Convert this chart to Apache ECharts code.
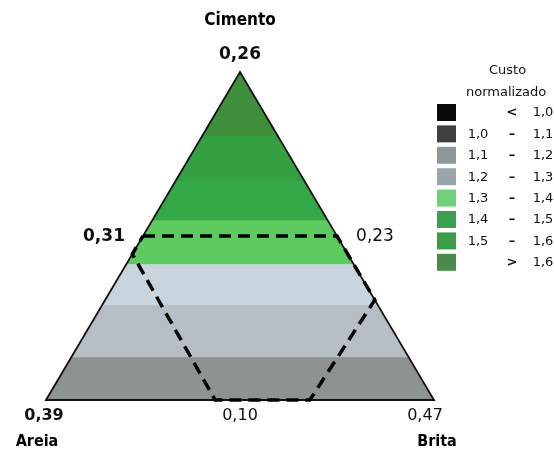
<!DOCTYPE html>
<html>
<head>
<meta charset="utf-8">
<script src="https://cdn.jsdelivr.net/npm/echarts@6/dist/echarts.min.js"></script>
<style>
html,body{margin:0;padding:0;background:#fff;}
#chart{width:554px;height:453px;}
</style>
</head>
<body>
<div id="chart"></div>
<script>
// Bands of normalised cost, as Cimento pseudo-fraction levels (0 = base, 1 = apex)
const cimentoEdges = [0, 0.131, 0.29, 0.415, 0.549, 0.671, 0.808, 1];
const bandColors = ['#8d9391', '#b7bdc4', '#c8d5df', '#5dca5f', '#34a846', '#35a041', '#3f8f3c'];

// Feasible region outline, pseudo-components [Areia, Brita, Cimento]
const regionAreia   = [0.5,  0.0,  0.0,   0.32, 0.564, 0.555];
const regionBrita   = [0.0,  0.5,  0.695, 0.68, 0.436, 0.0];
const regionCimento = [0.5,  0.5,  0.305, 0.0,  0.0,   0.445];

// Legend
const legendTitle = ['Custo', 'normalizado'];
const legendLow  = ['', '1,0', '1,1', '1,2', '1,3', '1,4', '1,5', ''];
const legendSep  = ['<', '–', '–', '–', '–', '–', '–', '>'];
const legendHigh = ['1,0', '1,1', '1,2', '1,3', '1,4', '1,5', '1,6', '1,6'];
const legendColors = ['#0a0a0a', '#3e4042', '#8d979c', '#9aa5ac', '#6fd27a', '#3da050', '#3a9d48', '#4a8a4a'];

// Vertex / side labels
const vertexNames = ['Cimento', 'Areia', 'Brita'];
const vertexValues = ['0,26', '0,39', '0,47'];
const sideValues = ['0,31', '0,23', '0,10'];

function toXY(a, b, c) { return [b + c / 2, c]; }

const bandData = [];
for (let i = 0; i < bandColors.length; i++) bandData.push([cimentoEdges[i], cimentoEdges[i + 1], i]);

const regionPts = regionAreia.map((a, i) => toXY(a, regionBrita[i], regionCimento[i]));

const chart = echarts.init(document.getElementById('chart'));

const legendGraphics = [];
const lx = 437, ly0 = 104, dy = 21.4;
legendGraphics.push({type: 'text', left: 489, top: 64, style: {text: legendTitle[0], font: '13px "DejaVu Sans"', fill: '#111'}});
legendGraphics.push({type: 'text', left: 466, top: 86, style: {text: legendTitle[1], font: '13px "DejaVu Sans"', fill: '#111'}});
for (let i = 0; i < legendColors.length; i++) {
  const y = ly0 + i * dy;
  legendGraphics.push({type: 'rect', shape: {x: lx, y: y, width: 19, height: 17}, style: {fill: legendColors[i]}});
  legendGraphics.push({type: 'text', x: 478, y: y + 9, style: {text: legendLow[i], font: '13px "DejaVu Sans"', fill: '#111', textAlign: 'center', textVerticalAlign: 'middle'}});
  legendGraphics.push({type: 'text', x: 512, y: y + 9, style: {text: legendSep[i], font: 'bold 13px "DejaVu Sans"', fill: '#111', textAlign: 'center', textVerticalAlign: 'middle'}});
  legendGraphics.push({type: 'text', x: 543, y: y + 9, style: {text: legendHigh[i], font: '13px "DejaVu Sans"', fill: '#111', textAlign: 'center', textVerticalAlign: 'middle'}});
}

function label(text, x, y, bold, size) {
  return {type: 'text', x: x, y: y, style: {text: text, font: (bold ? 'bold ' : '') + (size || 16) + 'px "DejaVu Sans"', fill: '#111', textAlign: 'center', textVerticalAlign: 'middle'}};
}
const labelGraphics = [
  {type: 'text', x: 240, y: 21, style: {text: vertexNames[0], font: 'bold 17px "DejaVu Sans Condensed", "DejaVu Sans"', fill: '#000', textAlign: 'center', textVerticalAlign: 'middle'}},
  label(vertexValues[0], 240, 55, true, 17),
  label(sideValues[0], 104, 237, true, 17),
  label(sideValues[1], 375, 237, false, 17),
  label(vertexValues[1], 44, 416, true, 16),
  label(sideValues[2], 240, 416, false, 16),
  label(vertexValues[2], 425, 416, false, 16),
  {type: 'text', x: 37, y: 442, style: {text: vertexNames[1], font: 'bold 16px "DejaVu Sans Condensed", "DejaVu Sans"', fill: '#000', textAlign: 'center', textVerticalAlign: 'middle'}},
  {type: 'text', x: 437, y: 442, style: {text: vertexNames[2], font: 'bold 16px "DejaVu Sans Condensed", "DejaVu Sans"', fill: '#000', textAlign: 'center', textVerticalAlign: 'middle'}}
];

chart.setOption({
  animation: false,
  backgroundColor: '#fff',
  grid: {left: 46, top: 72, width: 388, height: 328},
  xAxis: {type: 'value', min: 0, max: 1, show: false},
  yAxis: {type: 'value', min: 0, max: 1, show: false},
  series: [
    {
      type: 'custom',
      coordinateSystem: 'cartesian2d',
      data: bandData,
      silent: true,
      renderItem: function (params, api) {
        const c0 = api.value(0), c1 = api.value(1), idx = api.value(2);
        const pts = [toXY(1 - c0, 0, c0), toXY(1 - c1, 0, c1), toXY(0, 1 - c1, c1), toXY(0, 1 - c0, c0)].map(p => api.coord(p));
        return {type: 'polygon', shape: {points: pts}, style: {fill: bandColors[idx], stroke: bandColors[idx], lineWidth: 0.5}};
      },
      z: 1
    },
    {
      type: 'custom',
      coordinateSystem: 'cartesian2d',
      data: [[0]],
      silent: true,
      renderItem: function (params, api) {
        const pts = [toXY(1, 0, 0), toXY(0, 0, 1), toXY(0, 1, 0)].map(p => api.coord(p));
        return {type: 'polygon', shape: {points: pts}, style: {fill: 'none', stroke: '#111', lineWidth: 1.8}};
      },
      z: 3
    },
    {
      type: 'custom',
      coordinateSystem: 'cartesian2d',
      data: [[0]],
      silent: true,
      renderItem: function (params, api) {
        const pts = regionPts.map(p => api.coord(p));
        pts.push(pts[0]);
        return {type: 'polyline', shape: {points: pts}, style: {fill: 'none', stroke: '#000', lineWidth: 3.5, lineDash: [12, 7]}};
      },
      z: 4
    }
  ],
  graphic: legendGraphics.concat(labelGraphics)
});
</script>
</body>
</html>
